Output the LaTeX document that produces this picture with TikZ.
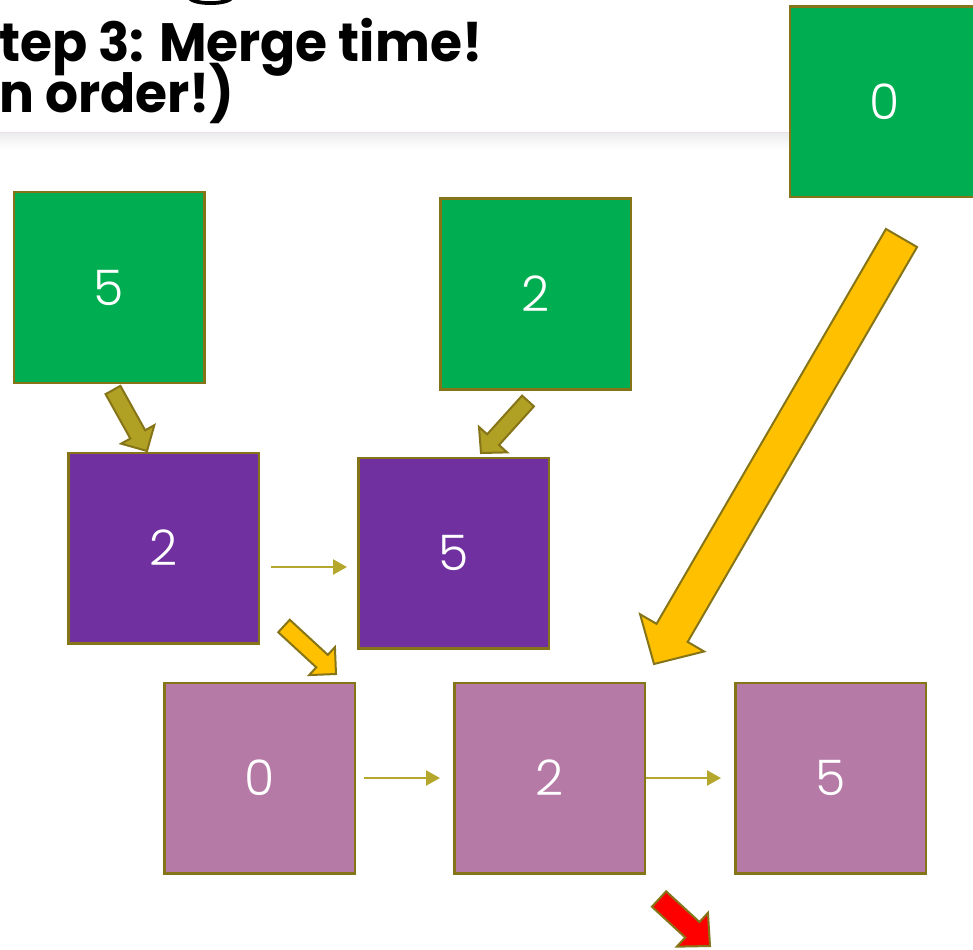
\documentclass[tikz,border=0pt]{standalone}
\usepackage{fontspec}
\usetikzlibrary{calc,arrows.meta}
\newfontfamily\titlefont{Poppins Bold}
\newfontfamily\numfont{Poppins Light}
\definecolor{boxgreen}{HTML}{00AD50}
\definecolor{boxpurple}{HTML}{7030A0}
\definecolor{boxpink}{HTML}{B57AA6}
\definecolor{edgeolive}{HTML}{857518}
\definecolor{arrolive}{HTML}{B0A024}
\definecolor{arryellow}{HTML}{FFC000}
\definecolor{linkolive}{HTML}{B5A72B}
\definecolor{seppink}{HTML}{EFDDEA}
\newcommand\blkarrow[6]{%
  \coordinate (ba-n) at ($(#3)!#6!(#2)$);
  \draw[#1] ($(#2)!#4!90:(#3)$) -- ($(ba-n)!#4!90:(#3)$) -- ($(ba-n)!#5!90:(#3)$) -- (#3)
    -- ($(ba-n)!#5!-90:(#3)$) -- ($(ba-n)!#4!-90:(#3)$) -- ($(#2)!#4!-90:(#3)$) -- cycle;}
\begin{document}
\begin{tikzpicture}[x=1pt,y=-1pt,
  box/.style={draw=edgeolive, line width=2.5pt, minimum size=190.5pt, inner sep=0pt,
    text=white, font=\numfont\fontsize{49}{49}\selectfont},
  blockolive/.style={draw=edgeolive, line width=2pt, fill=arrolive, line join=miter},
  blockyellow/.style={draw=edgeolive, line width=2pt, fill=arryellow, line join=miter},
  blockred/.style={draw=edgeolive, line width=2pt, fill=red, line join=miter},
  link/.style={draw=linkolive, line width=2.2pt, -{Triangle[length=14pt,width=15pt]}},
  titletext/.style={anchor=base west, inner sep=0pt, font=\titlefont\fontsize{54}{54}\selectfont}]
\useasboundingbox (0,0) rectangle (973,949);
\clip (0,0) rectangle (973,949);
\fill[white] (0,0) rectangle (973,949);
% fragment of a glyph above
\fill[black] (188,-1) .. controls (193,7) and (228,7) .. (233,-1) -- (225,-1)
  .. controls (220,2) and (200,2) .. (196,-1) -- cycle;
% title
\node[titletext] (t1) at (-1,62) {\scalebox{0.96}[1]{tep 3: Merge time!}};
\node[titletext] (t2) at (-1,113) {\scalebox{0.96}[1]{n order!)}};
% separator
\shade[top color=black!7, bottom color=white] (0,133) rectangle (800,150);
\draw[seppink, line width=1.5pt] (0,132.5) -- (800,132.5);
% boxes
\node[box, fill=boxgreen] (g1) at (109,287.5) {5};
\node[box, fill=boxgreen] (g2) at (535.5,294) {2};
\node[box, fill=boxgreen] (g3) at (885,102) {0};
\node[box, fill=boxpurple] (p1) at (163.5,548) {2};
\node[box, fill=boxpurple] (p2) at (453.5,553) {5};
\node[box, fill=boxpink] (m1) at (259.5,778) {0};
\node[box, fill=boxpink] (m2) at (549.5,778) {2};
\node[box, fill=boxpink] (m3) at (830.5,778) {5};
% thin links
\draw[link, shorten <=11pt, shorten >=10pt] ([yshift=-19pt]p1.east) -- ([yshift=-19pt]p1.east -| p2.west);
\draw[link, shorten <=8pt, shorten >=13pt] (m1.east) -- (m2.west);
\draw[link, shorten >=13pt] (m2.east) -- (m3.west);
% block arrows
\coordinate (a1t) at (113,390);  \coordinate (a1h) at (147,451);
\coordinate (a2t) at (528,401);  \coordinate (a2h) at (481,453);
\coordinate (a3t) at (284,626);  \coordinate (a3h) at (336,674);
\coordinate (a4t) at (901.5,238); \coordinate (a4h) at (654,664);
\coordinate (a5t) at (659,899);  \coordinate (a5h) at (710,946);
\blkarrow{blockolive}{a1t}{a1h}{8.5pt}{19pt}{19pt}
\blkarrow{blockolive}{a2t}{a2h}{8pt}{19pt}{18pt}
\blkarrow{blockyellow}{a3t}{a3h}{8.5pt}{19pt}{19pt}
\blkarrow{blockyellow}{a4t}{a4h}{18pt}{37pt}{36pt}
\blkarrow{blockred}{a5t}{a5h}{10.5pt}{23pt}{24pt}
\end{tikzpicture}
\end{document}
